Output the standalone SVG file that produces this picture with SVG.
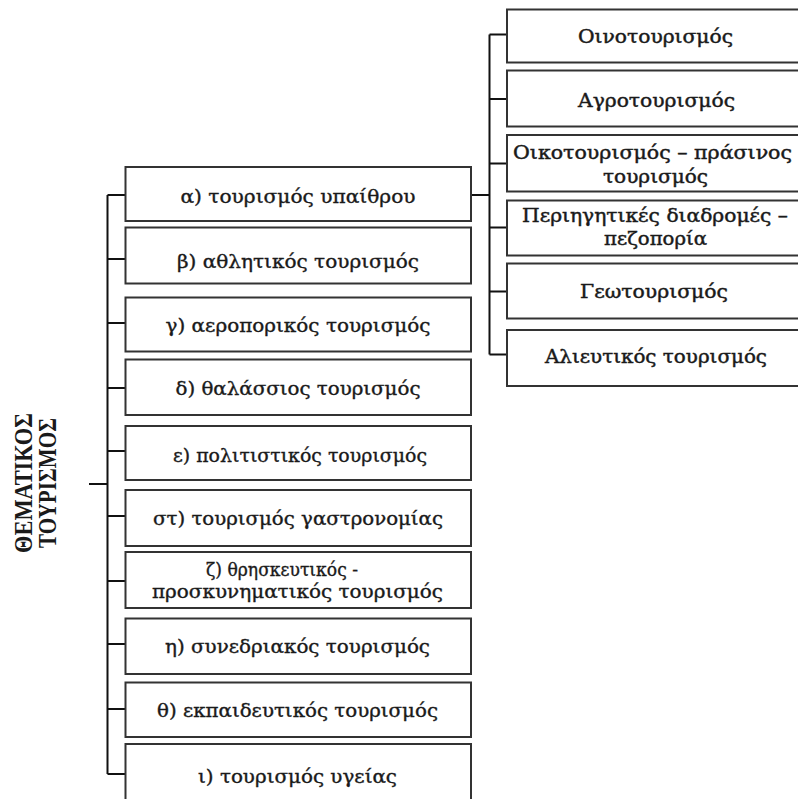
<svg xmlns="http://www.w3.org/2000/svg" width="798" height="799" viewBox="0 0 798 799">
<style>
.box{fill:#fff;stroke:#333;stroke-width:2}
.con{fill:none;stroke:#111;stroke-width:2}
.t{font-family:"DejaVu Serif","Liberation Serif",serif;font-size:18px;fill:#1a1a1a;stroke:#1a1a1a;stroke-width:0.35;text-anchor:middle}
.r{font-family:"DejaVu Serif","Liberation Serif",serif;font-size:18.5px;fill:#1a1a1a;stroke:#1a1a1a;stroke-width:0.45;text-anchor:middle}
.title{font-family:"Liberation Serif",serif;font-size:25px;font-weight:bold;fill:#1a1a1a;text-anchor:middle}
</style>
<rect width="798" height="799" fill="#fff"/>
<g id="connectors">
<path class="con" d="M89 484H107.5M107.5 195V774M107.5 195H125M107.5 259H125M107.5 323H125M107.5 388H125M107.5 451H125M107.5 516H125M107.5 581H125M107.5 644H125M107.5 709H125M107.5 774H125"/>
<path class="con" d="M471 195H489.5M489.5 34.5V354.5M489.5 34.5H507M489.5 99H507M489.5 163.5H507M489.5 227.5H507M489.5 291.5H507M489.5 354.5H507"/>
</g>
<g id="root">
<g transform="translate(32,483) rotate(-90)">
<text class="title" x="0" y="0" textLength="140" lengthAdjust="spacingAndGlyphs">ΘΕΜΑΤΙΚΟΣ</text>
<text class="title" x="0" y="23.5" textLength="130" lengthAdjust="spacingAndGlyphs">ΤΟΥΡΙΣΜΟΣ</text>
</g>
</g>
<g id="n-a"><rect class="box" x="125.5" y="167" width="345.5" height="54"/><text class="t" x="298" y="202.5" textLength="235" lengthAdjust="spacingAndGlyphs">α) τουρισμός υπαίθρου</text></g>
<g id="n-b"><rect class="box" x="125.5" y="227.5" width="345.5" height="56"/><text class="t" x="298" y="268" textLength="242" lengthAdjust="spacingAndGlyphs">β) αθλητικός τουρισμός</text></g>
<g id="n-g"><rect class="box" x="125.5" y="297.5" width="345.5" height="54"/><text class="t" x="298" y="331.5" textLength="265" lengthAdjust="spacingAndGlyphs">γ) αεροπορικός τουρισμός</text></g>
<g id="n-d"><rect class="box" x="125.5" y="359.5" width="345.5" height="55.5"/><text class="t" x="298" y="395" textLength="245" lengthAdjust="spacingAndGlyphs">δ) θαλάσσιος τουρισμός</text></g>
<g id="n-e"><rect class="box" x="125.5" y="426" width="345.5" height="54"/><text class="t" x="300" y="461.5" textLength="254" lengthAdjust="spacingAndGlyphs">ε) πολιτιστικός τουρισμός</text></g>
<g id="n-st"><rect class="box" x="125.5" y="490" width="345.5" height="56"/><text class="t" x="298" y="525" textLength="290" lengthAdjust="spacingAndGlyphs">στ) τουρισμός γαστρονομίας</text></g>
<g id="n-z"><rect class="box" x="125.5" y="552" width="345.5" height="56"/><text class="t" x="282" y="576" textLength="152" lengthAdjust="spacingAndGlyphs">ζ) θρησκευτικός -</text><text class="t" x="297.5" y="598" textLength="291" lengthAdjust="spacingAndGlyphs">προσκυνηματικός τουρισμός</text></g>
<g id="n-h"><rect class="box" x="125.5" y="618.5" width="345.5" height="55.5"/><text class="t" x="297.5" y="652.5" textLength="265" lengthAdjust="spacingAndGlyphs">η) συνεδριακός τουρισμός</text></g>
<g id="n-th"><rect class="box" x="125.5" y="682.5" width="345.5" height="54.5"/><text class="t" x="297.5" y="717" textLength="281" lengthAdjust="spacingAndGlyphs">θ) εκπαιδευτικός τουρισμός</text></g>
<g id="n-i"><rect class="box" x="125.5" y="744" width="345.5" height="62"/><text class="t" x="297.5" y="783" textLength="199" lengthAdjust="spacingAndGlyphs">ι) τουρισμός υγείας</text></g>
<g id="n-oino"><rect class="box" x="507" y="9.5" width="298" height="53"/><text class="r" x="655.5" y="42.5" textLength="155" lengthAdjust="spacingAndGlyphs">Οινοτουρισμός</text></g>
<g id="n-agro"><rect class="box" x="507" y="70.5" width="298" height="56"/><text class="r" x="656.5" y="107" textLength="157" lengthAdjust="spacingAndGlyphs">Αγροτουρισμός</text></g>
<g id="n-oiko"><rect class="box" x="507" y="135" width="298" height="56.5"/><text class="r" x="652.5" y="158.5" textLength="279" lengthAdjust="spacingAndGlyphs">Οικοτουρισμός – πράσινος</text><text class="r" x="655.5" y="183" textLength="105" lengthAdjust="spacingAndGlyphs">τουρισμός</text></g>
<g id="n-peri"><rect class="box" x="507" y="200.5" width="298" height="55"/><text class="r" x="655" y="221.5" textLength="266" lengthAdjust="spacingAndGlyphs">Περιηγητικές διαδρομές –</text><text class="r" x="655.5" y="245" textLength="103" lengthAdjust="spacingAndGlyphs">πεζοπορία</text></g>
<g id="n-geo"><rect class="box" x="507" y="263.5" width="298" height="55"/><text class="r" x="654" y="298" textLength="148" lengthAdjust="spacingAndGlyphs">Γεωτουρισμός</text></g>
<g id="n-ali"><rect class="box" x="507" y="330" width="298" height="56"/><text class="r" x="656" y="363" textLength="222" lengthAdjust="spacingAndGlyphs">Αλιευτικός τουρισμός</text></g>
</svg>
